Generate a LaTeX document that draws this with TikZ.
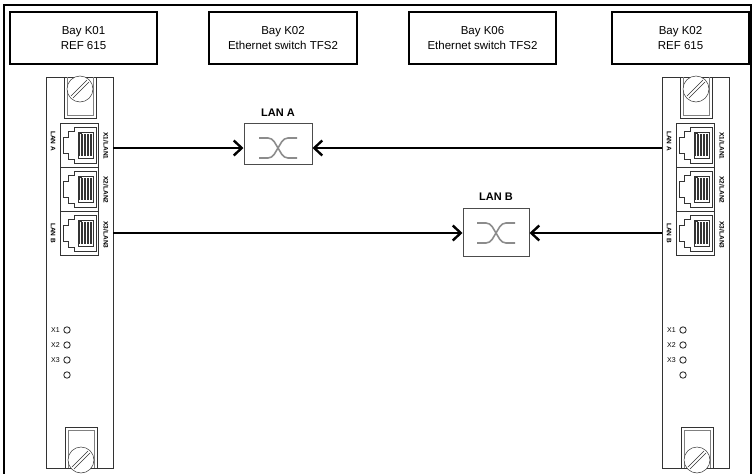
\documentclass[tikz,border=0pt]{standalone}
\usepackage{fontspec}
\setmainfont{Liberation Sans}
\usetikzlibrary{arrows.meta,positioning,calc}

\tikzset{
  baybox/.style={draw,line width=1.8pt,minimum height=52pt,align=center,inner sep=0pt,
    font=\fontsize{11.5}{14.5}\selectfont},
  switchbox/.style={draw=black!70,line width=1pt,inner sep=0pt},
  lanname/.style={font=\fontsize{11}{13}\selectfont\bfseries},
  link/.style={line width=1.9pt,-{Straight Barb[length=8pt,width=15pt,line width=2.4pt]}},
  devline/.style={draw=black!80,line width=0.5pt},
  portlabel/.style={font=\fontsize{6.5}{7}\selectfont\bfseries,rotate=-90,inner sep=0pt},
  ledlabel/.style={font=\fontsize{7}{8}\selectfont,inner sep=0pt,anchor=east},
  xover/.pic={
    \draw[black!45,line width=1.6pt,rounded corners=4pt] (-19,-10) -- (-6,-10) -- (6,10) -- (19,10);
    \draw[black!45,line width=1.6pt,rounded corners=4pt] (-19,10) -- (-6,10) -- (6,-10) -- (19,-10);
  }
}

\newcommand{\screwhead}[2]{%
  \draw[devline,fill=white] (#1,#2) circle (13pt);
  \draw[devline] ($(#1,#2)+(-9,7)$) -- ($(#1,#2)+(7,-9)$);
  \draw[devline] ($(#1,#2)+(-7,9)$) -- ($(#1,#2)+(9,-7)$);
}

\begin{document}
\begin{tikzpicture}[x=1pt,y=-1pt]

      \useasboundingbox (0,0) rectangle (753,474);

      % outer frame
      \draw[line width=2.5pt] (4,480) -- (4,5) -- (751,5) -- (751,480);

      % bay headers
      \node[baybox,minimum width=147pt] (k01)  at (83.5,38)  {Bay K01\\REF 615};
      \node[baybox,minimum width=148pt] (k02)  at (283,38)   {Bay K02\\Ethernet switch TFS2};
      \node[baybox,minimum width=147pt] (k06)  at (482.5,38) {Bay K06\\Ethernet switch TFS2};
      \node[baybox,minimum width=137pt] (k02r) at (680.5,38) {Bay K02\\REF 615};

      % the two REF 615 communication modules
      \foreach \dx/\side in {0/L,616/R}{
        \begin{scope}[xshift=\dx pt]
          \draw[devline] (46,77) rectangle (113,468);
          % top screw
          \draw[devline] (64,77) -- (64,118) -- (96,118) -- (96,77);
          \draw[devline,black!50] (67,77) -- (67,115) -- (93,115) -- (93,77);
          \screwhead{80}{89}
          % bottom screw
          \draw[devline] (65,468) -- (65,427) -- (97,427) -- (97,468);
          \draw[devline,black!50] (68,468) -- (68,430) -- (94,430) -- (94,468);
          \screwhead{81}{460}
          % RJ45 ports
          \foreach \k in {0,1,2}{
            \pgfmathsetmacro{\py}{123+44*\k}
            \begin{scope}[shift={(60,\py)}]
              \draw[devline] (0,0) rectangle (38,44);
              \draw[devline] (36,4) -- (14,4) -- (14,8) -- (8,8) -- (8,14) -- (3,14) -- (3,30)
                -- (8,30) -- (8,36) -- (14,36) -- (14,40) -- (36,40) -- cycle;
              \draw[devline] (18,9) rectangle (33,35);
              \foreach \px in {19.5,21,...,31.5}
                \draw[black!80,line width=0.4pt] (\px,11) -- (\px,33);
              \fill[black!80] (18,9) rectangle (22,11);
            \end{scope}
          }
          \node[portlabel] (lanA\side) at (53,141) {LAN A};
          \node[portlabel] (lanB\side) at (53,233) {LAN B};
          \node[portlabel] (x1\side) at (106,146) {X1/LAN1};
          \node[portlabel] (x2\side) at (106,190) {X2/LAN2};
          \node[portlabel] (x3\side) at (106,235) {X3/LAN3};
          % LEDs
          \foreach \t/\yy in {X1/330,X2/345,X3/360}
            \node[ledlabel] (led\t\side) at (60,\yy) {\t};
          \foreach \yy in {330,345,360,375}
            \draw[black!80,line width=0.9pt] (67,\yy) circle (3.2pt);
        \end{scope}
      }

      % switches
      \node[switchbox,minimum width=68pt,minimum height=41pt] (lanA) at (278,143.5) {};
      \node[lanname] (lanAtitle) at (278,113) {LAN A};
      \pic at (278,148) {xover};
      \node[switchbox,minimum width=66pt,minimum height=48pt] (lanB) at (496,232) {};
      \node[lanname] (lanBtitle) at (496,197) {LAN B};
      \pic at (496,233) {xover};

      % links
      \coordinate (outLA) at (113,148);
      \coordinate (outLB) at (113,233);
      \coordinate (outRA) at (662,148);
      \coordinate (outRB) at (662,233);
      \draw[link] (outLA) -- (lanA.west |- outLA);
      \draw[link] (outRA) -- (lanA.east |- outRA);
      \draw[link] (outLB) -- (lanB.west |- outLB);
      \draw[link] (outRB) -- (lanB.east |- outRB);

\end{tikzpicture}
\end{document}
